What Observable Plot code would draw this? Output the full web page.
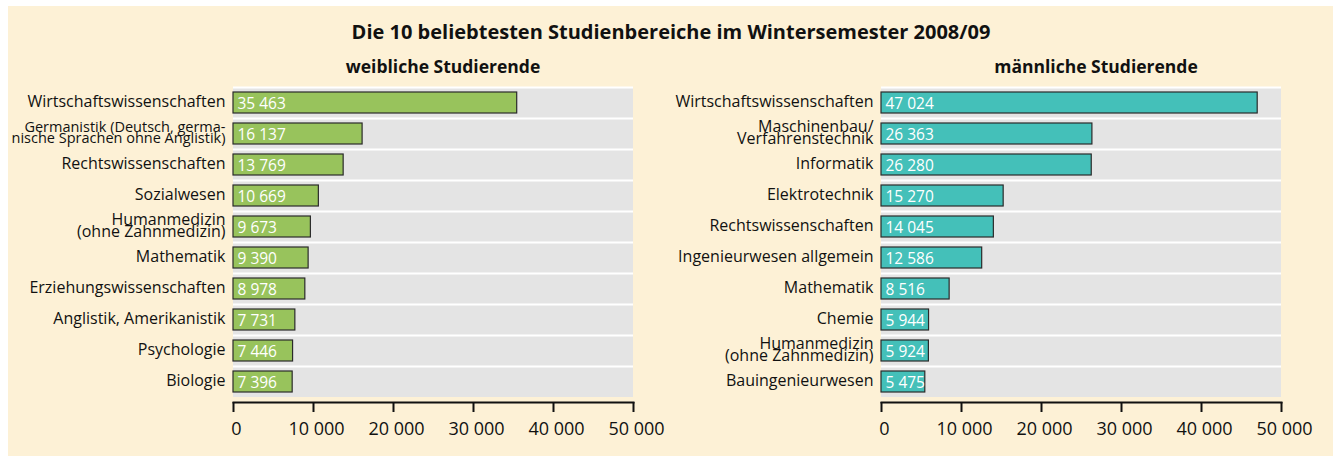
<!DOCTYPE html>
<html>
<head>
<meta charset="utf-8">
<script src="https://cdn.jsdelivr.net/npm/d3@7"></script>
<script src="https://cdn.jsdelivr.net/npm/@observablehq/plot@0.6"></script>
<style>
  html, body { margin: 0; padding: 0; background: #ffffff; }
  body { width: 1333px; height: 456px; overflow: hidden; position: relative; font-family: "Open Sans", sans-serif; }
  #wrap { position: absolute; left: 8px; top: 6px; width: 1325px; height: 450px; background: #fdf1d6; }
  .t { position: absolute; transform: translate(-50%, -50%); white-space: nowrap; font-weight: 700; color: #111; }
  #title { left: 663px; top: 25px; font-size: 20px; }
  #subL { left: 435px; top: 60px; font-size: 17.5px; }
  #subR { left: 1088px; top: 60px; font-size: 17.5px; }
  #plotL { position: absolute; left: 0px; top: 74px; }
  #plotR { position: absolute; left: 660px; top: 74px; }
</style>
</head>
<body>
<div id="wrap">
  <div class="t" id="title">Die 10 beliebtesten Studienbereiche im Wintersemester 2008/09</div>
  <div class="t" id="subL">weibliche Studierende</div>
  <div class="t" id="subR">männliche Studierende</div>
  <div id="plotL"></div>
  <div id="plotR"></div>
</div>
<script>
const femaleCategories = [
  "Wirtschaftswissenschaften",
  "Germanistik (Deutsch, germa-\nnische Sprachen ohne Anglistik)",
  "Rechtswissenschaften",
  "Sozialwesen",
  "Humanmedizin\n(ohne Zahnmedizin)",
  "Mathematik",
  "Erziehungswissenschaften",
  "Anglistik, Amerikanistik",
  "Psychologie",
  "Biologie"
];
const femaleValues = [35463, 16137, 13769, 10669, 9673, 9390, 8978, 7731, 7446, 7396];

const maleCategories = [
  "Wirtschaftswissenschaften",
  "Maschinenbau/\nVerfahrenstechnik",
  "Informatik",
  "Elektrotechnik",
  "Rechtswissenschaften",
  "Ingenieurwesen allgemein",
  "Mathematik",
  "Chemie",
  "Humanmedizin\n(ohne Zahnmedizin)",
  "Bauingenieurwesen"
];
const maleValues = [47024, 26363, 26280, 15270, 14045, 12586, 8516, 5944, 5924, 5475];

const xTicks = [0, 10000, 20000, 30000, 40000, 50000];
const xMax = 50000;

const locale = d3.formatLocale({decimal: ",", thousands: " ", grouping: [3], currency: ["", " €"]});
const fmt = locale.format(",d");

// long wrapped labels are set a little smaller so they fit the margin
const labelSize = d => d.split("\n").some(line => line.length > 26) ? 14.5 : 16;

function panel(categories, values, color, width, marginLeft) {
  const data = categories.map((c, i) => ({name: c, value: values[i]}));
  const height = 370, marginTop = 7, marginBottom = 53;
  const marginRight = width - marginLeft - 400;
  const bandH = (height - marginTop - marginBottom) / categories.length;
  return Plot.plot({
    width, height, marginLeft, marginRight, marginTop, marginBottom,
    style: {background: "transparent", fontFamily: "'Open Sans', sans-serif", color: "#111", overflow: "visible"},
    x: {domain: [0, xMax]},
    y: {domain: categories, padding: 0},
    marks: [
      Plot.barX(data, {y: "name", x1: 0, x2: xMax, fill: "#e4e4e4"}),
      Plot.tickY(data, {y: "name", dy: -bandH / 2, stroke: "#ffffff", strokeWidth: 2}),
      Plot.barX(data, {y: "name", x: "value", fill: color, stroke: "#2a2a2a", strokeWidth: 1.2, insetTop: 5, insetBottom: 5}),
      Plot.text(data, {y: "name", x: 0, text: d => fmt(d.value), textAnchor: "start", dx: 4, dy: 1.5, fill: "#ffffff", fontSize: 15.5}),
      Plot.axisY({tickSize: 0, tickPadding: 8, fontSize: labelSize, lineHeight: 0.78, label: null}),
      Plot.frame({anchor: "bottom", dy: 5, stroke: "#111", strokeWidth: 2}),
      Plot.axisX(xTicks, {tickSize: 10, dy: 5, fill: "none", stroke: "#111", strokeWidth: 2, label: null}),
      Plot.axisX(xTicks, {tickSize: 0, tickPadding: 20, dy: 5, dx: 3, tickFormat: fmt, fontSize: 18, fill: "#111", label: null})
    ]
  });
}

document.getElementById("plotL").append(panel(femaleCategories, femaleValues, "#98c35c", 660, 225));
document.getElementById("plotR").append(panel(maleCategories, maleValues, "#44c0b9", 665, 213));
</script>
</body>
</html>
